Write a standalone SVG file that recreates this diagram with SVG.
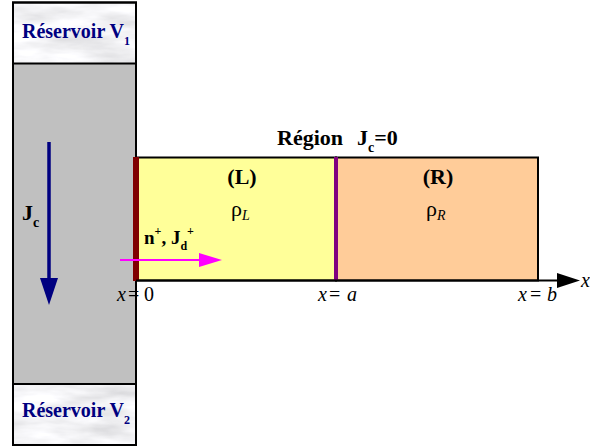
<svg xmlns="http://www.w3.org/2000/svg" width="590" height="448" viewBox="0 0 590 448">
<style>
.serif{font-family:"Liberation Serif","Times New Roman",serif;}
.res{font-family:"Liberation Serif",serif;font-weight:bold;font-size:20px;fill:#000080;}
.lbl{font-family:"Liberation Serif",serif;font-weight:bold;font-size:22px;fill:#000;}
.ax{font-family:"Liberation Serif",serif;font-size:20px;fill:#000;}
.box{stroke:#000;stroke-width:2;}
</style>
<defs>
<filter id="marble" x="0" y="0" width="1" height="1">
<feTurbulence type="fractalNoise" baseFrequency="0.015 0.06" numOctaves="4" seed="7" result="n"/>
<feColorMatrix in="n" type="matrix" values="0.55 0 0 0 0.62  0.55 0 0 0 0.62  0.55 0 0 0 0.64  0 0 0 0 1" result="g"/>
<feComposite in="g" in2="SourceGraphic" operator="in"/>
</filter>
</defs>
<rect width="590" height="448" fill="#fff"/>
<g id="column">
<rect x="13" y="63.5" width="123" height="320.5" fill="#c0c0c0"/>
</g>
<g id="reservoir1">
<rect x="13" y="2.5" width="123" height="61" fill="#e4e4e4" filter="url(#marble)"/>
<rect x="13" y="2.5" width="123" height="61" fill="none" class="box"/>
<text class="res" x="22" y="38">Réservoir V<tspan font-size="12" dy="7">1</tspan></text>
</g>
<g id="reservoir2">
<rect x="13" y="384" width="123" height="61" fill="#e4e4e4" filter="url(#marble)"/>
<rect x="13" y="384" width="123" height="61" fill="none" class="box"/>
<text class="res" x="22" y="417">Réservoir V<tspan font-size="12" dy="7">2</tspan></text>
</g>
<g id="column-border">
<rect x="13" y="2.5" width="123" height="442.5" fill="none" class="box"/>
</g>
<g id="regionL">
<rect x="136" y="157.5" width="200" height="123" fill="#ffff99" class="box"/>
<text class="lbl" x="242" y="184" text-anchor="middle">(L)</text>
<text class="serif" x="231" y="216" font-size="22">ρ<tspan font-style="italic" font-size="14" dy="4">L</tspan></text>
</g>
<g id="regionR">
<rect x="336" y="157.5" width="202" height="123" fill="#ffcc99" class="box"/>
<text class="lbl" x="438" y="184" text-anchor="middle">(R)</text>
<text class="serif" x="426" y="216" font-size="22">ρ<tspan font-style="italic" font-size="14" dy="4">R</tspan></text>
</g>
<g id="interfaces">
<rect x="133" y="157" width="6" height="124" fill="#800000"/>
<rect x="334" y="157" width="4" height="124" fill="#800080"/>
</g>
<g id="title">
<text class="lbl" x="277" y="145">Région<tspan x="357">J</tspan><tspan font-size="14" dy="7">c</tspan><tspan dy="-7">=0</tspan></text>
</g>
<g id="jc-label">
<text class="lbl" x="22" y="220">J<tspan font-size="14" dy="7">c</tspan></text>
</g>
<g id="n-label">
<text class="serif" font-weight="bold" font-size="19" x="144" y="244">n<tspan font-size="12" dy="-9">+</tspan><tspan dy="9">, J</tspan><tspan font-size="12" dy="6">d</tspan><tspan font-size="12" dy="-15">+</tspan></text>
</g>
<g id="connectors">
<line x1="49" y1="142" x2="49" y2="280" stroke="#000080" stroke-width="3.5"/>
<polygon points="40,278 58,278 49,305" fill="#000080"/>
<line x1="120" y1="260" x2="201" y2="260" stroke="#ff00ff" stroke-width="2"/>
<polygon points="199,253 222,260 199,267" fill="#ff00ff"/>
<line x1="136" y1="280.5" x2="559" y2="280.5" stroke="#000" stroke-width="2"/>
<polygon points="557,273 580,280.5 557,288" fill="#000"/>
</g>
<g id="axis-labels">
<text class="ax" y="301"><tspan x="117" font-style="italic">x</tspan><tspan x="128">=</tspan><tspan x="144">0</tspan></text>
<text class="ax" y="301"><tspan x="318" font-style="italic">x</tspan><tspan x="329">=</tspan><tspan x="347" font-style="italic">a</tspan></text>
<text class="ax" y="301"><tspan x="518" font-style="italic">x</tspan><tspan x="530">=</tspan><tspan x="547" font-style="italic">b</tspan></text>
<text class="ax" x="581" y="287" font-size="18" font-style="italic">x</text>
</g>
</svg>
